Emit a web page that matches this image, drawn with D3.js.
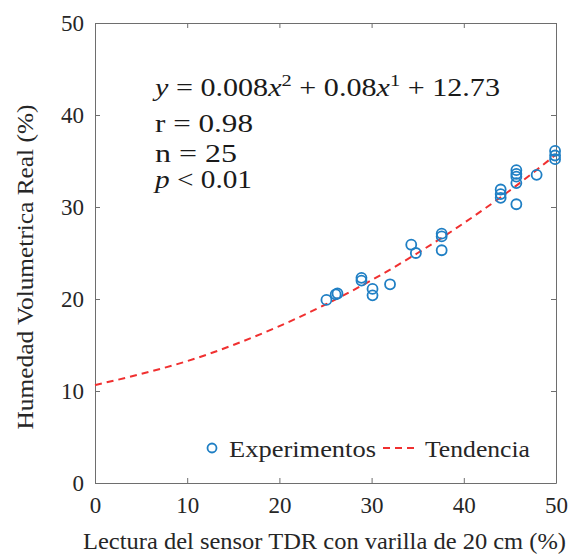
<!DOCTYPE html>
<html>
<head>
<meta charset="utf-8">
<script src="https://cdn.jsdelivr.net/npm/d3@7"></script>
<style>
  body { margin: 0; background: #fff; }
  svg text { font-family: "Liberation Serif", "Times New Roman", "DejaVu Serif", serif !important; }
</style>
</head>
<body>
<div id="chart"></div>
<script>
// measured points (sensor reading, real moisture)
const sensorTDR = [25.1, 26.1, 26.3, 28.9, 28.9, 30.1, 30.1, 32.0, 34.3, 34.8,
                   37.6, 37.6, 37.6, 44.0, 44.0, 44.0, 45.7, 45.7, 45.7, 45.7,
                   45.7, 47.9, 49.9, 49.9, 49.9];
const humedadReal = [19.9, 20.5, 20.6, 22.3, 22.0, 21.1, 20.4, 21.6, 25.9, 25.0,
                     27.1, 26.8, 25.3, 31.9, 31.4, 31.0, 34.0, 33.6, 33.3, 32.6,
                     30.3, 33.5, 36.1, 35.6, 35.2];
// trend curve
const trendX = [0, 5, 10, 15, 20, 25, 30, 35, 40, 45, 50];
const trendY = [10.65, 11.85, 13.25, 15.0, 17.05, 19.4, 22.05, 25.0, 28.25, 31.8, 35.7];
const xTicks = [0, 10, 20, 30, 40, 50];
const yTicks = [0, 10, 20, 30, 40, 50];

const serif = '"Liberation Serif", "Times New Roman", "DejaVu Serif", serif';

const margin = {top: 23, right: 15, bottom: 73, left: 95};
const width = 571 - margin.left - margin.right;
const height = 556 - margin.top - margin.bottom;

var svg = d3.select("#chart")
            .append("svg")
            .attr("width", width + margin.left + margin.right)
            .attr("height", height + margin.top + margin.bottom)
            .style("font-family", serif)
            .append("g")
            .attr("transform", "translate(" + margin.left + "," + margin.top + ")");

var x = d3.scaleLinear().domain([0, 50]).range([0, width]);
var y = d3.scaleLinear().domain([0, 50]).range([height, 0]);

const axisColor = "#6e6e6e";
const textColor = "#262626";

function styleAxis(g) {
    g.attr("font-family", serif);
    g.selectAll(".domain").attr("stroke", axisColor);
    g.selectAll(".tick line").attr("stroke", axisColor);
    g.selectAll("text").attr("fill", textColor).style("font-size", "23px");
}

// bottom + top
svg.append("g")
    .attr("transform", "translate(0," + height + ")")
    .call(d3.axisBottom(x).tickValues(xTicks).tickSizeInner(-5).tickSizeOuter(0).tickPadding(14))
    .call(styleAxis);
svg.append("g")
    .call(d3.axisTop(x).tickValues(xTicks).tickSizeInner(-5).tickSizeOuter(0).tickFormat(""))
    .call(styleAxis);
// left + right
svg.append("g")
    .call(d3.axisLeft(y).tickValues(yTicks).tickSizeInner(-5).tickSizeOuter(0).tickPadding(11))
    .call(styleAxis);
svg.append("g")
    .attr("transform", "translate(" + width + ",0)")
    .call(d3.axisRight(y).tickValues(yTicks).tickSizeInner(-5).tickSizeOuter(0).tickFormat(""))
    .call(styleAxis);

// trend line
svg.append("path")
    .datum(trendX.map((d, i) => [d, trendY[i]]))
    .attr("fill", "none")
    .attr("stroke", "#f03030")
    .attr("stroke-width", 2)
    .attr("stroke-dasharray", "7,5")
    .attr("d", d3.line().x(d => x(d[0])).y(d => y(d[1])).curve(d3.curveMonotoneX));

// points
svg.append("g")
    .selectAll("circle")
    .data(sensorTDR.map((d, i) => [d, humedadReal[i]]))
    .enter()
    .append("circle")
    .attr("cx", d => x(d[0]))
    .attr("cy", d => y(d[1]))
    .attr("r", 5)
    .attr("fill", "none")
    .attr("stroke", "#1f7fc4")
    .attr("stroke-width", 1.8);

// annotation (stretched to the width of the LaTeX text)
const ann = svg.append("g").attr("fill", "#1a1a1a").style("font-size", "25px");
const eq = ann.append("text").attr("x", 60).attr("y", 73)
    .attr("textLength", 345).attr("lengthAdjust", "spacingAndGlyphs");
eq.append("tspan").style("font-style", "italic").text("y");
eq.append("tspan").text(" = 0.008");
eq.append("tspan").style("font-style", "italic").text("x");
eq.append("tspan").attr("dy", -10).style("font-size", "17px").text("2");
eq.append("tspan").attr("dy", 10).text(" + 0.08");
eq.append("tspan").style("font-style", "italic").text("x");
eq.append("tspan").attr("dy", -10).style("font-size", "17px").text("1");
eq.append("tspan").attr("dy", 10).text(" + 12.73");
ann.append("text").attr("x", 60).attr("y", 109).attr("textLength", 98)
    .attr("lengthAdjust", "spacingAndGlyphs").text("r = 0.98");
ann.append("text").attr("x", 60).attr("y", 139).attr("textLength", 82)
    .attr("lengthAdjust", "spacingAndGlyphs").text("n = 25");
const pt = ann.append("text").attr("x", 60).attr("y", 165).attr("textLength", 97)
    .attr("lengthAdjust", "spacingAndGlyphs");
pt.append("tspan").style("font-style", "italic").text("p");
pt.append("tspan").text(" < 0.01");

// legend
const leg = svg.append("g").style("font-size", "24px").attr("fill", textColor);
leg.append("circle").attr("cx", 117).attr("cy", 425).attr("r", 4.5)
    .attr("fill", "none").attr("stroke", "#1f7fc4").attr("stroke-width", 1.8);
leg.append("text").attr("x", 134).attr("y", 434).attr("textLength", 147)
    .attr("lengthAdjust", "spacingAndGlyphs").text("Experimentos");
leg.append("line").attr("x1", 288).attr("x2", 323).attr("y1", 425).attr("y2", 425)
    .attr("stroke", "#f03030").attr("stroke-width", 2).attr("stroke-dasharray", "7,5");
leg.append("text").attr("x", 330).attr("y", 434).attr("textLength", 105)
    .attr("lengthAdjust", "spacingAndGlyphs").text("Tendencia");

// axis labels
svg.append("text")
    .attr("x", width / 2 - 1)
    .attr("y", height + 66)
    .attr("text-anchor", "middle")
    .attr("fill", textColor)
    .style("font-size", "23px")
    .attr("textLength", 483)
    .attr("lengthAdjust", "spacingAndGlyphs")
    .text("Lectura del sensor TDR con varilla de 20 cm (%)");
svg.append("text")
    .attr("transform", "translate(-62," + (height / 2 + 14) + ") rotate(-90)")
    .attr("text-anchor", "middle")
    .attr("fill", textColor)
    .style("font-size", "23px")
    .attr("textLength", 325)
    .attr("lengthAdjust", "spacingAndGlyphs")
    .text("Humedad Volumetrica Real (%)");
</script>
</body>
</html>
